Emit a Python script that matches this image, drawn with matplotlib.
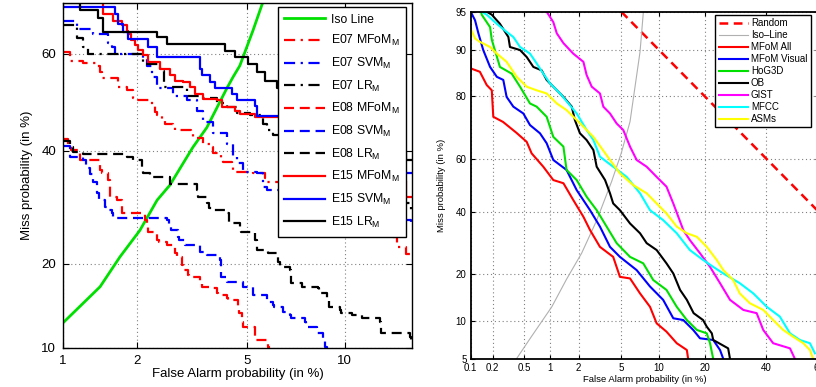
import numpy as np
import matplotlib
matplotlib.use("Agg")
import matplotlib.pyplot as plt
from matplotlib.ticker import FixedLocator, FixedFormatter
from statistics import NormalDist

plt.rcParams['font.family'] = ['Liberation Sans', 'DejaVu Sans']
plt.rcParams['mathtext.fontset'] = 'custom'
plt.rcParams['mathtext.rm'] = 'Liberation Sans'

# ---------------- data: left panel (percent) ----------------
iso_l_x = [1.0, 1.43, 1.72, 2.06, 2.40, 2.68, 3.25, 3.65, 4.28, 4.49, 4.74, 5.24, 5.65]
iso_l_y = [12.5, 16.8, 21.0, 25.2, 30.5, 33.3, 40.7, 44.8, 52.9, 55.2, 57.6, 64.6, 70.0]

e07_mfom_x = [1.0, 1.07, 1.22, 1.39, 1.43, 1.46, 1.69, 1.83, 1.94, 2.01, 2.30, 2.36, 2.40, 2.50, 2.57, 2.75,
              2.80, 3.20, 3.25, 3.54, 3.75, 3.84, 4.10, 4.15, 4.45, 4.49, 5.24, 5.75, 5.82, 8.0, 10.0, 12.0,
              13.5, 13.8, 14.6, 15.5]
e07_mfom_y = [60.3, 58.6, 58.2, 57.6, 56.2, 55.0, 53.1, 52.5, 51.0, 50.4, 49.4, 47.9, 47.3, 46.2, 45.6, 44.8,
              44.2, 43.6, 42.7, 41.5, 40.7, 39.5, 38.1, 37.7, 37.1, 35.8, 35.6, 34.6, 33.8, 30.5, 27.5, 25.5,
              24.1, 22.5, 21.5, 21.0]
e07_svm_x = [1.0, 1.15, 1.34, 1.54, 1.60, 1.65, 2.12, 2.20, 2.30, 2.40, 2.75, 3.10, 3.36, 3.54, 3.84, 4.28,
             4.49, 4.63, 4.86, 5.40, 5.65, 5.82, 8.0, 10.0, 12.0, 15.0]
e07_svm_y = [66.5, 65.0, 64.0, 62.2, 61.3, 60.0, 59.1, 57.6, 55.2, 53.0, 51.4, 50.4, 48.3, 45.9, 43.6, 41.5,
             38.7, 37.5, 35.8, 35.6, 32.9, 32.3, 30.0, 28.0, 27.0, 26.0]
e07_lr_x = [1.0, 1.15, 1.22, 1.28, 2.12, 2.46, 2.55, 3.10, 3.45, 3.96, 4.28, 4.63, 5.12, 5.65, 5.82, 6.09,
            8.0, 10.0, 12.0, 15.0]
e07_lr_y = [65.6, 63.2, 61.3, 60.0, 58.0, 56.6, 53.1, 51.4, 51.0, 49.8, 49.0, 47.7, 47.3, 45.6, 44.2, 43.2,
            38.0, 33.0, 30.0, 28.0]

e08_mfom_x = [1.0, 1.05, 1.08, 1.18, 1.43, 1.46, 1.54, 1.57, 1.68, 1.76, 2.16, 2.19, 2.22, 2.40, 2.45, 2.61,
              2.80, 2.84, 2.97, 3.00, 3.12, 3.15, 3.45, 3.50, 3.84, 3.96, 4.00, 4.28, 4.32, 4.67, 4.72, 4.81,
              4.86, 5.31, 5.85, 5.90]
e08_mfom_y = [42.5, 41.5, 40.1, 38.1, 36.2, 35.6, 34.2, 31.0, 30.5, 28.2, 26.9, 26.1, 24.9, 23.6, 23.3, 22.8,
              21.6, 21.0, 19.8, 19.1, 18.4, 18.1, 17.3, 16.8, 16.6, 16.0, 15.8, 15.4, 15.1, 14.2, 13.6, 12.6,
              12.1, 10.8, 10.1, 9.5]
e08_svm_x = [1.0, 1.07, 1.22, 1.25, 1.30, 1.34, 1.39, 1.42, 1.50, 1.52, 1.60, 1.62, 2.61, 2.65, 2.70, 2.87,
             2.90, 3.05, 3.45, 3.65, 4.05, 4.10, 4.28, 4.86, 5.24, 5.82, 6.09, 6.15, 6.54, 6.87, 6.95, 7.63,
             7.70, 8.31, 8.65, 8.75, 8.9]
e08_svm_y = [41.1, 38.7, 38.1, 36.7, 35.5, 33.8, 31.8, 30.5, 29.2, 28.7, 28.2, 27.3, 26.9, 26.1, 25.2, 24.1,
             23.6, 22.8, 21.7, 21.3, 20.5, 18.1, 17.4, 16.8, 15.8, 14.9, 14.5, 14.3, 13.7, 13.4, 13.0, 12.6,
             12.1, 11.4, 10.8, 10.1, 9.5]
e08_lr_x = [1.0, 1.07, 1.10, 1.22, 1.83, 1.94, 2.10, 2.12, 2.25, 2.68, 3.36, 3.40, 3.65, 3.70, 3.84, 4.28,
            4.35, 4.74, 4.80, 5.31, 5.40, 5.85, 6.30, 6.40, 6.87, 6.95, 7.48, 8.36, 8.45, 8.88, 9.0, 9.68,
            9.75, 10.5, 11.2, 12.5, 12.6, 14.9, 15.0]
e08_lr_y = [42.1, 40.7, 39.7, 39.3, 38.7, 38.1, 36.7, 35.6, 34.8, 33.6, 32.3, 31.0, 29.9, 29.0, 28.7, 28.2,
            26.4, 25.6, 24.9, 23.6, 22.0, 21.6, 20.2, 19.5, 19.1, 17.3, 16.8, 16.6, 16.0, 15.4, 14.3, 13.9,
            13.6, 13.4, 13.0, 12.6, 11.4, 11.0, 10.5]

e15_mfom_x = [1.0, 1.47, 1.62, 1.75, 1.83, 1.86, 1.91, 1.97, 2.03, 2.12, 2.22, 2.46, 2.68, 2.80, 2.99, 3.17,
              3.31, 3.54, 3.95, 4.11, 4.56, 4.74, 5.31, 8.0, 10.0, 12.0, 14.6, 16.0]
e15_mfom_y = [75.0, 67.8, 66.5, 65.6, 64.6, 64.0, 62.7, 61.7, 60.7, 59.7, 58.3, 56.9, 55.6, 54.5, 54.2, 53.2,
              51.8, 50.8, 50.4, 49.0, 48.3, 47.6, 46.9, 42.0, 37.0, 34.0, 31.0, 31.0]
e15_svm_x = [1.0, 1.645, 1.69, 1.77, 1.85, 2.22, 2.40, 3.45, 3.51, 3.74, 3.90, 4.46, 4.63, 5.31, 5.40, 8.0,
             10.0, 12.0, 14.0, 16.0]
e15_svm_y = [69.1, 67.8, 65.9, 64.3, 63.0, 61.3, 59.3, 56.9, 55.6, 54.2, 53.0, 51.8, 50.5, 49.2, 47.1, 44.0,
             40.0, 37.0, 35.7, 35.7]
e15_lr_x = [1.0, 1.18, 1.40, 1.47, 2.40, 2.61, 4.22, 4.56, 5.04, 5.40, 5.73, 6.26, 8.0, 10.0, 12.0, 14.6, 16.0]
e15_lr_y = [69.8, 68.5, 67.1, 64.4, 63.4, 62.0, 60.6, 59.3, 58.0, 56.2, 54.5, 52.9, 48.0, 44.0, 40.0, 38.1, 38.1]

left_xticks = [1, 2, 5, 10]
left_yticks = [10, 20, 40, 60]

# ---------------- data: right panel (percent) ----------------
random_x = [5, 20, 40, 60]
random_y = [95, 80, 60, 40]
iso_r_x = [0.40, 0.60, 1.04, 1.50, 2.14, 3.00, 4.12, 5.00, 5.93, 7.15, 7.60]
iso_r_y = [5.0, 7.5, 12.5, 18.7, 26.0, 37.0, 51.5, 62.0, 72.7, 89.7, 95.0]

mfom_all_x = [0.1, 0.1, 0.134, 0.166, 0.194, 0.203, 0.272, 0.404, 0.534, 0.612, 0.835, 1.08, 1.39, 1.76, 2.23,
              2.59, 3.22, 4.25, 4.87, 5.93, 7.15, 8.55, 9.59, 11.3, 13.3, 15.5, 15.8]
mfom_all_y = [88.5, 86.6, 85.9, 82.9, 81.6, 74.2, 72.6, 69.0, 66.0, 61.9, 57.0, 52.0, 50.8, 44.5, 38.3,
              33.6, 28.0, 24.9, 19.3, 18.9, 15.3, 12.5, 9.56, 8.29, 6.74, 5.94, 5.0]
mfom_vis_x = [0.1, 0.115, 0.128, 0.149, 0.184, 0.226, 0.274, 0.302, 0.367, 0.487, 0.585, 0.765, 0.911, 1.08,
              1.50, 1.91, 2.59, 3.22, 3.98, 4.87, 6.72, 8.55, 10.7, 12.6, 14.7, 17.0, 18.7, 22.3, 24.3, 25.3]
mfom_vis_y = [95, 94.1, 92.5, 90.0, 86.9, 84.8, 84.1, 79.9, 77.2, 75.2, 71.6, 68.9, 65.5, 59.5, 55.8, 48.2,
              40.7, 34.8, 28.0, 24.9, 21.1, 16.9, 13.9, 10.4, 10.1, 8.54, 7.37, 7.15, 5.94, 5.0]
hog_x = [0.13, 0.142, 0.184, 0.194, 0.248, 0.350, 0.444, 0.585, 0.700, 0.911, 1.08, 1.39, 1.50, 1.91, 2.40,
         3.00, 3.71, 4.56, 5.93, 7.58, 9.04, 11.3, 13.3, 15.5, 17.9, 20.5, 21.4, 22.3]
hog_y = [96.0, 94.7, 93.3, 91.6, 86.9, 85.5, 82.5, 78.1, 77.2, 74.2, 67.7, 64.3, 55.8, 52.0, 45.7, 40.7, 34.8,
         29.2, 24.9, 23.0, 18.5, 16.1, 12.5, 10.1, 8.54, 8.05, 6.74, 5.0]
ob_x = [0.166, 0.194, 0.248, 0.318, 0.333, 0.444, 0.534, 0.641, 0.800, 0.911, 1.08, 1.39, 1.70, 1.83, 2.06,
        2.40, 2.79, 3.00, 3.59, 3.98, 4.25, 4.87, 5.93, 7.15, 8.06, 9.59, 11.3, 12.6, 14.0, 15.5, 17.1, 19.5,
        20.5, 21.9, 22.3, 26.8, 27.4]
ob_y = [95, 94.7, 93.7, 92.0, 90.5, 90.0, 88.8, 86.9, 86.2, 84.1, 82.5, 79.9, 77.2, 73.2, 68.9, 66.6, 63.1,
        57.0, 52.0, 47.0, 43.2, 40.7, 35.9, 32.5, 29.2, 27.0, 23.0, 20.2, 16.1, 13.9, 11.3, 10.1, 9.03, 8.05,
        7.15, 6.13, 5.0]
gist_x = [0.911, 1.08, 1.18, 1.39, 1.76, 2.23, 2.40, 2.69, 3.22, 3.46, 3.98, 4.56, 5.20, 5.93, 6.72, 8.06,
          9.59, 11.3, 12.6, 14.7, 16.2, 18.7, 21.4, 24.3, 27.4, 31.8, 36.5, 38.9, 42.6, 49.0, 50.9]
gist_y = [95, 93.9, 92.5, 91.1, 89.4, 87.9, 85.2, 82.5, 80.8, 77.2, 75.2, 72.1, 70.0, 64.3, 59.5, 57.0, 53.2,
          49.5, 43.2, 33.6, 30.2, 26.0, 22.0, 17.7, 13.9, 11.9, 11.3, 8.54, 6.74, 6.13, 5.0]
mfcc_x = [0.142, 0.166, 0.226, 0.302, 0.367, 0.444, 0.585, 0.700, 0.835, 0.993, 1.28, 1.57, 1.91, 2.40, 2.79,
          3.22, 4.25, 5.56, 7.15, 8.55, 10.7, 13.3, 16.2, 19.5, 22.3, 25.3, 30.6, 35.3, 40.2, 45.1, 49.0, 52.8,
          56.6, 58.5]
mfcc_y = [95, 94.7, 93.7, 92.7, 92.0, 90.5, 89.4, 87.6, 85.5, 83.3, 80.8, 78.1, 75.2, 70.0, 66.6, 60.7, 57.0,
          53.2, 47.0, 40.7, 37.1, 32.5, 27.0, 24.0, 22.0, 20.2, 17.7, 15.3, 12.5, 10.7, 8.05, 7.15, 6.74, 5.58]
asm_x = [0.1, 0.115, 0.134, 0.184, 0.226, 0.302, 0.404, 0.534, 0.700, 0.911, 1.18, 1.50, 1.91, 2.40, 2.79,
         3.34, 3.98, 4.87, 6.30, 8.06, 9.59, 11.3, 13.3, 15.5, 17.9, 20.5, 23.3, 25.3, 28.4, 30.6, 34.1, 38.9,
         42.6, 46.4, 50.2, 54.1, 56.6, 57.8]
asm_y = [93.1, 91.8, 91.3, 90.5, 89.4, 87.9, 84.8, 82.5, 81.6, 80.8, 78.1, 76.2, 73.2, 70.0, 67.7, 63.7, 59.5,
         54.5, 50.1, 47.0, 43.2, 39.5, 34.8, 32.5, 31.3, 28.0, 24.0, 21.1, 18.5, 15.3, 13.2, 11.9, 10.1, 8.54,
         7.58, 6.74, 5.94, 5.0]

right_xticks = [0.1, 0.2, 0.5, 1, 2, 5, 10, 20, 40, 60]
right_yticks = [5, 10, 20, 40, 60, 80, 90, 95]

# ---------------- probit scale ----------------
_nd = NormalDist()
_ppf = np.vectorize(_nd.inv_cdf, otypes=[float])
_cdf = np.vectorize(_nd.cdf, otypes=[float])


def fwd(p):
    p = np.clip(np.asarray(p, dtype=float) / 100.0, 1e-7, 1 - 1e-7)
    return _ppf(p)


def inv(z):
    return _cdf(np.asarray(z, dtype=float)) * 100.0


def fmt(v):
    return ('%g' % v)


W, H = 816, 387
fig = plt.figure(figsize=(W / 100, H / 100), dpi=100)

GRID = dict(color='#808080', linestyle=(0, (1, 2.5)), linewidth=0.8)

# ---------------- left panel ----------------
axL = fig.add_axes([63 / W, 1 - 348 / H, (412 - 63) / W, (348 - 3) / H])
axL.set_xscale('function', functions=(fwd, inv))
axL.set_yscale('function', functions=(fwd, inv))

lw = 1.6
dd = (5, 2.5, 1, 2.5)
ds = (4.5, 2.6)
axL.plot(iso_l_x, iso_l_y, color='#00e000', lw=2.0, label='Iso Line')
axL.plot(e07_mfom_x, e07_mfom_y, color='red', lw=lw, dashes=dd, drawstyle='steps-post', label='E07 MFoM$_\\mathregular{M}$')
axL.plot(e07_svm_x, e07_svm_y, color='blue', lw=lw, dashes=dd, drawstyle='steps-post', label='E07 SVM$_\\mathregular{M}$')
axL.plot(e07_lr_x, e07_lr_y, color='black', lw=lw, dashes=dd, drawstyle='steps-post', label='E07 LR$_\\mathregular{M}$')
axL.plot(e08_mfom_x, e08_mfom_y, color='red', lw=lw, dashes=ds, drawstyle='steps-post', label='E08 MFoM$_\\mathregular{M}$')
axL.plot(e08_svm_x, e08_svm_y, color='blue', lw=lw, dashes=ds, drawstyle='steps-post', label='E08 SVM$_\\mathregular{M}$')
axL.plot(e08_lr_x, e08_lr_y, color='black', lw=lw, dashes=ds, drawstyle='steps-post', label='E08 LR$_\\mathregular{M}$')
axL.plot(e15_mfom_x, e15_mfom_y, color='red', lw=lw, drawstyle='steps-post', label='E15 MFoM$_\\mathregular{M}$')
axL.plot(e15_svm_x, e15_svm_y, color='blue', lw=lw, drawstyle='steps-post', label='E15 SVM$_\\mathregular{M}$')
axL.plot(e15_lr_x, e15_lr_y, color='black', lw=lw, drawstyle='steps-post', label='E15 LR$_\\mathregular{M}$')

axL.set_xlim(1, 15.1)
axL.set_ylim(10, 69.8)
axL.xaxis.set_major_locator(FixedLocator(left_xticks))
axL.xaxis.set_major_formatter(FixedFormatter([fmt(v) for v in left_xticks]))
axL.yaxis.set_major_locator(FixedLocator(left_yticks))
axL.yaxis.set_major_formatter(FixedFormatter([fmt(v) for v in left_yticks]))
axL.xaxis.set_minor_locator(FixedLocator([]))
axL.yaxis.set_minor_locator(FixedLocator([]))
axL.grid(True, **GRID)
axL.tick_params(direction='in', top=True, right=True, length=4, width=0.8, labelsize=9.5, pad=5)
for s in axL.spines.values():
    s.set_linewidth(1.0)
axL.set_xlabel('False Alarm probability (in %)', fontsize=9.5, labelpad=1)
axL.set_ylabel('Miss probability (in %)', fontsize=9.5, labelpad=6)
legL = axL.legend(loc='upper right', bbox_to_anchor=(406 / W, 1 - 7 / H), bbox_transform=fig.transFigure,
                  borderaxespad=0, fontsize=8.8, handlelength=3.3, handletextpad=0.5, labelspacing=0.62,
                  borderpad=0.55, fancybox=False, framealpha=1, edgecolor='black')
legL.get_frame().set_linewidth(1.0)

# ---------------- right panel ----------------
axR = fig.add_axes([470.7 / W, 1 - 359 / H, (819 - 470.7) / W, (359 - 11.7) / H])
axR.set_xscale('function', functions=(fwd, inv))
axR.set_yscale('function', functions=(fwd, inv))

rlw = 1.5
axR.plot(random_x, random_y, color='red', lw=1.8, dashes=(3.5, 2.2), label='Random')
axR.plot(iso_r_x, iso_r_y, color='#b0b0b0', lw=0.8, label='Iso\u2013Line')
axR.plot(mfom_all_x, mfom_all_y, color='red', lw=rlw, label='MFoM All')
axR.plot(mfom_vis_x, mfom_vis_y, color='blue', lw=rlw, label='MFoM Visual')
axR.plot(hog_x, hog_y, color='#00e000', lw=rlw, label='HoG3D')
axR.plot(ob_x, ob_y, color='black', lw=rlw, label='OB')
axR.plot(gist_x, gist_y, color='magenta', lw=rlw, label='GIST')
axR.plot(mfcc_x, mfcc_y, color='cyan', lw=rlw, label='MFCC')
axR.plot(asm_x, asm_y, color='yellow', lw=rlw, label='ASMs')

axR.set_xlim(0.1, 60)
axR.set_ylim(5, 95)
axR.xaxis.set_major_locator(FixedLocator(right_xticks))
axR.xaxis.set_major_formatter(FixedFormatter([fmt(v) for v in right_xticks]))
axR.yaxis.set_major_locator(FixedLocator(right_yticks))
axR.yaxis.set_major_formatter(FixedFormatter([fmt(v) for v in right_yticks]))
axR.xaxis.set_minor_locator(FixedLocator([]))
axR.yaxis.set_minor_locator(FixedLocator([]))
axR.grid(True, **GRID)
axR.tick_params(direction='in', top=True, right=True, length=3, width=0.8, labelsize=7, pad=3)
for s in axR.spines.values():
    s.set_linewidth(1.3)
axR.set_xlabel('False Alarm probability (in %)', fontsize=6.8, labelpad=1)
axR.set_ylabel('Miss probability (in %)', fontsize=6.8, labelpad=7)
legR = axR.legend(loc='upper right', bbox_to_anchor=(810.7 / W, 1 - 15 / H), bbox_transform=fig.transFigure,
                  borderaxespad=0, fontsize=7, handlelength=3.0, handletextpad=0.3, labelspacing=0.2,
                  borderpad=0.35, fancybox=False, framealpha=1, edgecolor='black')
legR.get_frame().set_linewidth(1.0)

fig.savefig('out.png', dpi=100)
